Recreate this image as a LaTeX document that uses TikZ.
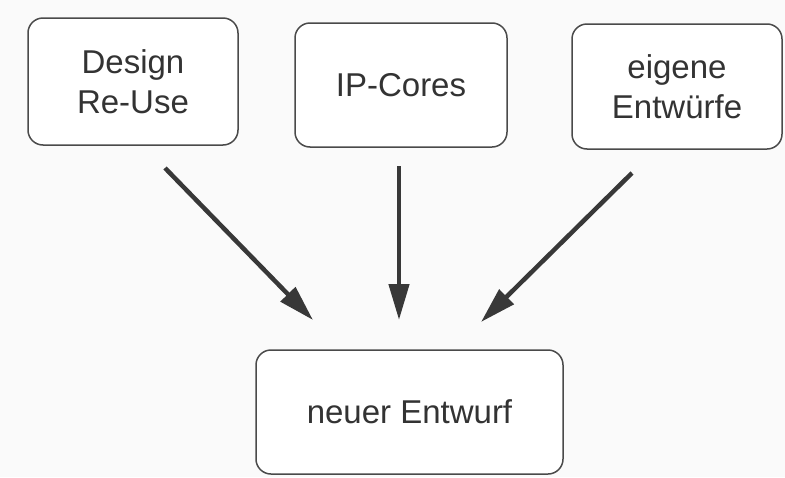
\documentclass[tikz,border=0pt]{standalone}
\usepackage{fontspec}
\setmainfont{Liberation Sans}
\usetikzlibrary{arrows.meta}
\definecolor{boxline}{HTML}{4A4A4A}
\definecolor{arrowcol}{HTML}{383838}
\definecolor{txt}{HTML}{333333}
\definecolor{paper}{HTML}{FAFAFA}
\begin{document}
\begin{tikzpicture}[x=1pt,y=-1pt,
  box/.style={draw=boxline, line width=1.5pt, rounded corners=15pt, fill=white,
    text=txt, align=center, inner sep=0pt,
    font=\fontsize{33}{40}\selectfont},
  flow/.style={draw=arrowcol, line width=4.5pt,
    -{Triangle[length=36pt,width=20pt]}}]
\fill[paper] (0,0) rectangle (785,477);
\useasboundingbox (0,0) rectangle (785,477);
\node[box, minimum width=210pt, minimum height=127pt] (reuse) at (133,81.5) {Design\\Re-Use};
\node[box, minimum width=212pt, minimum height=124pt] (ip) at (401,85) {IP-Cores};
\node[box, minimum width=210pt, minimum height=125pt] (own) at (677,86.5) {eigene\\Entwürfe};
\node[box, minimum width=307pt, minimum height=124pt] (new) at (409.5,412) {neuer Entwurf};
\coordinate (s1) at (165,168);
\coordinate (e1) at (313,320);
\coordinate (s2) at (399,166);
\coordinate (e2) at (399,320);
\coordinate (s3) at (632,173);
\coordinate (e3) at (481,322);
\draw[flow] (s1) -- (e1);
\draw[flow] (s2) -- (e2);
\draw[flow] (s3) -- (e3);
\end{tikzpicture}
\end{document}
